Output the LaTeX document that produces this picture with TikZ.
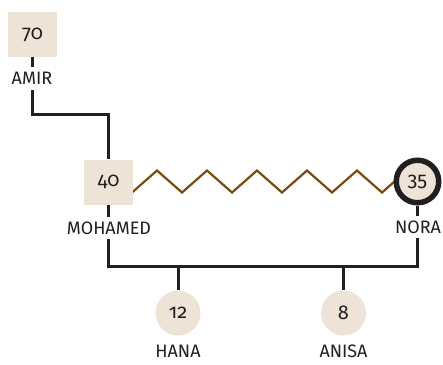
\documentclass[tikz,border=0pt]{standalone}
\usepackage{fontspec}
\setmainfont{Fira Sans}[Numbers=OldStyle]
\usetikzlibrary{backgrounds,decorations.pathmorphing}

\definecolor{sand}{HTML}{EDE4D7}
\definecolor{ink}{HTML}{231F20}
\definecolor{bond}{HTML}{7B4A0E}

\begin{document}
\begin{tikzpicture}[x=1pt, y=-1pt,
  every node/.style={font=\fontsize{18}{20}\selectfont, text=ink},
  age/.style={font=\fontsize{20}{22}\selectfont},
  elder/.style={age, fill=sand, minimum width=49pt, minimum height=45pt, inner sep=0pt},
  kid/.style={age, circle, fill=sand, minimum size=45pt, inner sep=0pt},
  spouse/.style={age, circle, draw=ink, line width=5.5pt, fill=sand, minimum size=42.5pt, inner sep=0pt},
  tag/.style={fill=white, inner xsep=2pt, inner ysep=5pt, text height=12.4pt, text depth=0pt},
  tie/.style={draw=ink, line width=3pt},
  married/.style={draw=bond, line width=2.2pt, miter limit=20,
    decorate, decoration={zigzag, segment length=50pt, amplitude=11pt}}]
  \useasboundingbox (0,0) rectangle (443,364);

  % people
  \node[elder] (amir) at (32.5, 34.5) {70};
  \node[elder] (mohamed) at (108.5, 182) {40};
  \node[spouse] (nora) at (417.5, 181.5) {35};
  \node[kid] (hana) at (178, 313) {12};
  \node[kid] (anisa) at (343.5, 313) {8};

  % names
  \node[tag] (amirtag) at (32, 78.5) {AMIR};
  \node[tag] (mohamedtag) at (109, 228) {MOHAMED};
  \node[tag] (noratag) at (418, 227) {NORA};
  \node[tag, inner ysep=1pt] (hanatag) at (178, 351) {HANA};
  \node[tag, inner ysep=1pt] (anisatag) at (343.5, 351) {ANISA};

  \coordinate (elbow) at (32.5, 114);
  \coordinate (bar) at (0, 266);
  \coordinate (zzstart) at (94.5, 181.5);

  \begin{pgfonlayer}{background}
    \draw[tie] (amir) -- (elbow) -| (mohamed);
    \draw[tie] (mohamed) |- (bar -| nora) -- (nora);
    \draw[tie] (hana |- bar) -- (hana);
    \draw[tie] (anisa |- bar) -- (anisa);
    \draw[married] (zzstart) -- (nora.center);
  \end{pgfonlayer}
\end{tikzpicture}
\end{document}
